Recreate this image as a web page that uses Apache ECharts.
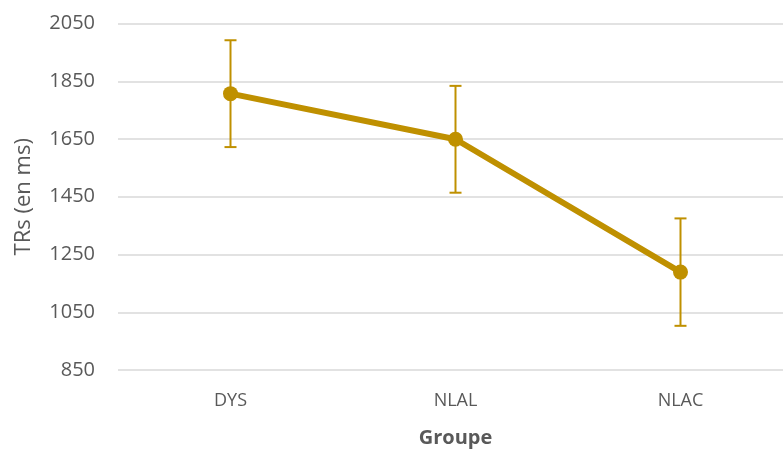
<!DOCTYPE html>
<html>
<head>
<meta charset="utf-8">
<script src="https://cdn.jsdelivr.net/npm/echarts@6/dist/echarts.min.js"></script>
<style>html,body{margin:0;padding:0;background:#fff;overflow:hidden;width:783px;height:453px}#c{width:793px;height:453px}</style>
</head>
<body>
<div id="c"></div>
<script>
var categories = ['DYS', 'NLAL', 'NLAC'];
var means = [1807, 1649, 1189];
var errors = [185, 185, 186];
var yTicks = { min: 850, max: 2050, interval: 200 };

var color = '#BF9000';
var font = 'Open Sans';
var chart = echarts.init(document.getElementById('c'));
var errData = categories.map(function (c, i) { return [i, means[i] - errors[i], means[i] + errors[i]]; });

chart.setOption({
  animation: false,
  grid: { left: 118, right: 0, top: 23.5, bottom: 83 },
  xAxis: {
    type: 'category', data: categories, boundaryGap: true,
    axisLine: { show: false }, axisTick: { show: false },
    axisLabel: { color: '#595959', fontSize: 18, fontFamily: font, margin: 22 },
    name: 'Groupe', nameLocation: 'middle', nameGap: 58,
    nameTextStyle: { color: '#595959', fontSize: 20, fontWeight: 'bold', fontFamily: font },
    splitLine: { show: false }
  },
  yAxis: {
    type: 'value', min: yTicks.min, max: yTicks.max, interval: yTicks.interval,
    axisLine: { show: false }, axisTick: { show: false },
    axisLabel: { color: '#595959', fontSize: 20, fontFamily: font, margin: 23, formatter: function (v) { return String(v); } },
    splitLine: { lineStyle: { color: '#D9D9D9', width: 1.5 } },
    name: 'TRs (en ms)', nameLocation: 'middle', nameGap: 83, nameRotate: 90,
    nameTextStyle: { color: '#595959', fontSize: 22, fontFamily: font }
  },
  series: [
    {
      type: 'custom',
      data: errData,
      z: 1,
      renderItem: function (params, api) {
        var x = api.value(0);
        var lo = api.coord([x, api.value(1)]);
        var hi = api.coord([x, api.value(2)]);
        var hw = 6;
        var st = { stroke: color, lineWidth: 2 };
        return {
          type: 'group',
          children: [
            { type: 'line', shape: { x1: lo[0], y1: lo[1], x2: hi[0], y2: hi[1] }, style: st },
            { type: 'line', shape: { x1: lo[0] - hw, y1: lo[1], x2: lo[0] + hw, y2: lo[1] }, style: st },
            { type: 'line', shape: { x1: hi[0] - hw, y1: hi[1], x2: hi[0] + hw, y2: hi[1] }, style: st }
          ]
        };
      }
    },
    {
      type: 'line',
      data: means,
      z: 2,
      symbol: 'circle', symbolSize: 15,
      lineStyle: { color: color, width: 6 },
      itemStyle: { color: color }
    }
  ]
});
</script>
</body>
</html>
